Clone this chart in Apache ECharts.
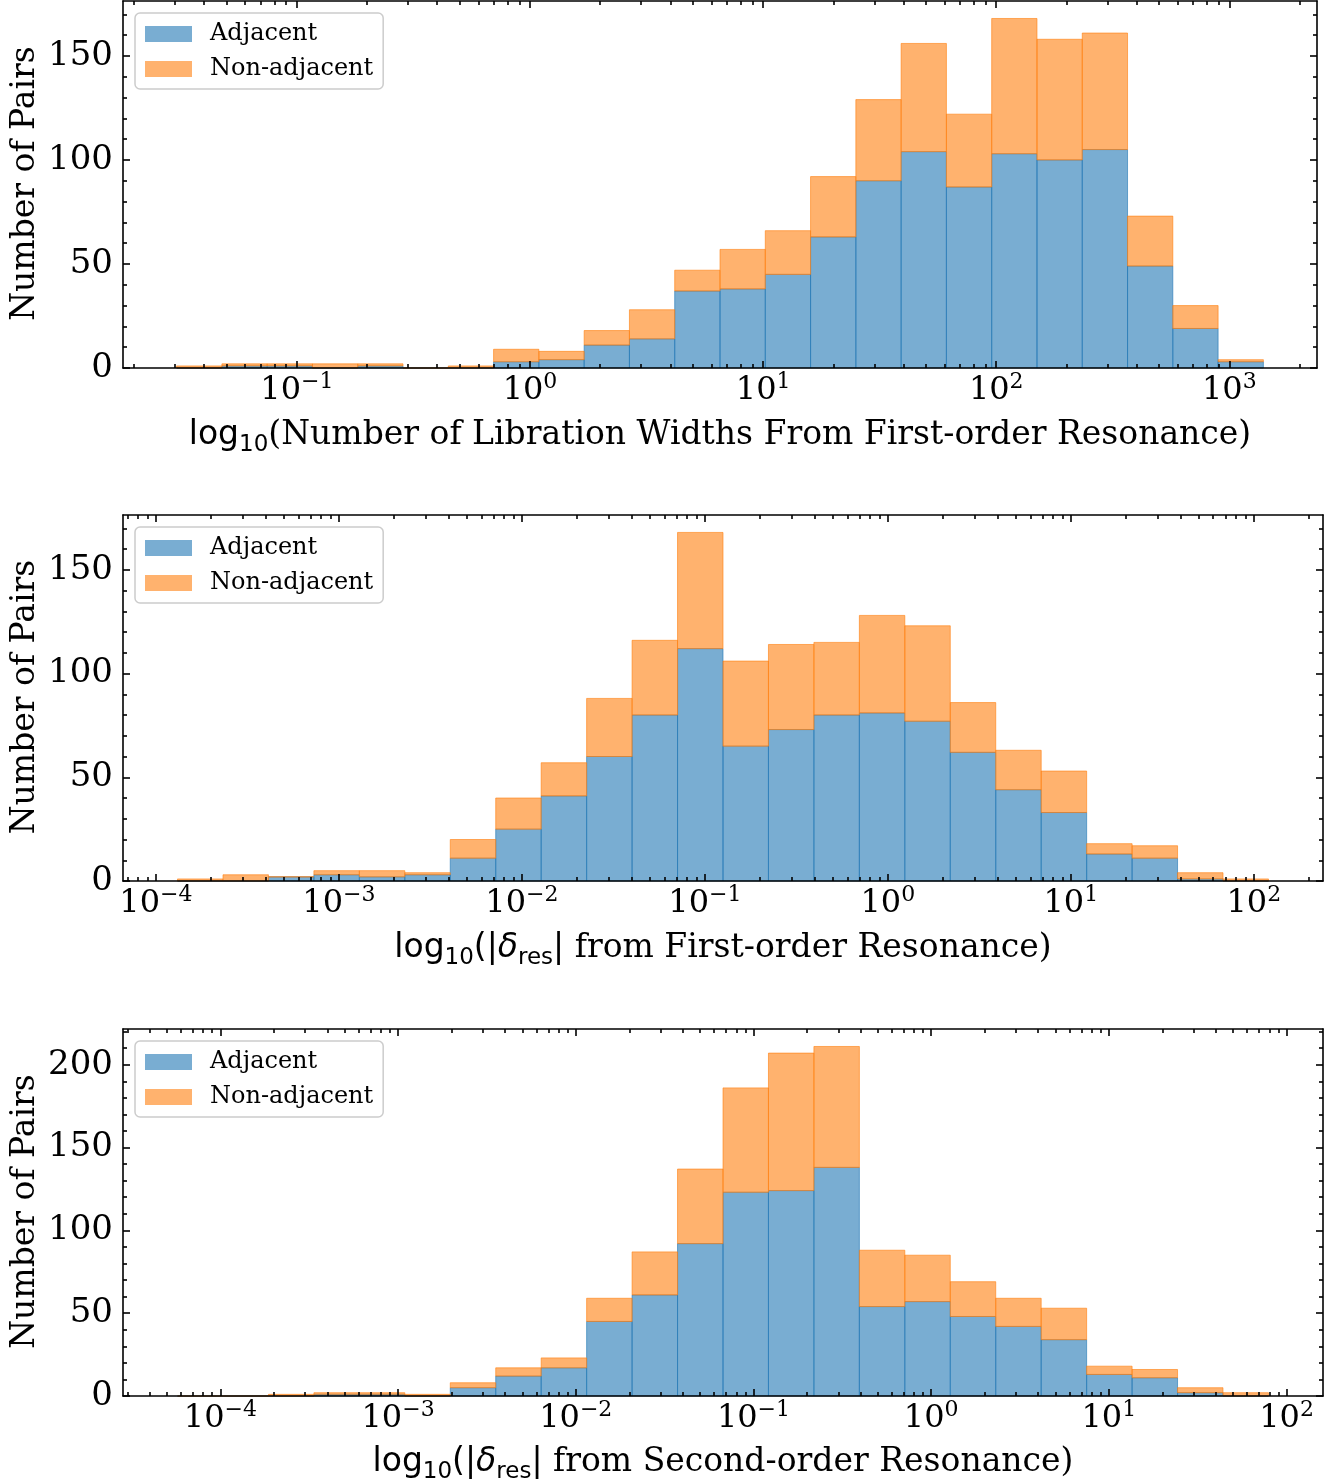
<!DOCTYPE html>
<html><head><meta charset="utf-8">
<script src="https://cdn.jsdelivr.net/npm/echarts@6/dist/echarts.min.js"></script>
<style>html,body{margin:0;padding:0;background:#fff}#c{width:1340px;height:1481px}</style>
</head><body><div id="c"></div>
<script>
// ---------- data (log10 bin ranges, counts per bin) ----------
const seriesNames = ['Adjacent', 'Non-adjacent'];

// Panel 1: libration widths from first-order resonance
const p1AxisRange = [-1.746, 3.376];      // log10 x-limits
const p1BinRange = [-1.516, 3.146];       // log10 of first / last bin edge (24 bins)
const p1Adjacent    = [0,1,1,0,1,0,0,3,4,11,14,37,38,45,63,90,104,87,103,100,105,49,19,3];
const p1NonAdjacent = [1,1,1,2,1,0,1,6,4,7,14,10,19,21,29,39,52,35,65,58,56,24,11,1];
const p1TickExp = [-1, 0, 1, 2, 3];

// Panel 2: |delta_res| from first-order resonance
const p2AxisRange = [-4.180, 2.378];
const p2BinRange = [-3.882, 2.080];
const p2Adjacent    = [0,0,2,3,2,3,11,25,41,60,80,112,65,73,80,81,77,62,44,33,13,11,1,0];
const p2NonAdjacent = [1,3,0,2,3,1,9,15,16,28,36,56,41,41,35,47,46,24,19,20,5,6,3,1];
const p2TickExp = [-4, -3, -2, -1, 0, 1, 2];

// Panel 3: |delta_res| from second-order resonance
const p3AxisRange = [-4.548, 2.205];
const p3BinRange = [-4.241, 1.898];
const p3Adjacent    = [0,0,0,1,1,0,5,12,17,45,61,92,123,124,138,54,57,48,42,34,13,11,2,0];
const p3NonAdjacent = [0,0,1,1,1,1,3,5,6,14,26,45,63,83,73,34,28,21,17,19,5,5,3,2];
const p3TickExp = [-4, -3, -2, -1, 0, 1, 2];

const yLabel = 'Number of Pairs';
const p1XName = '{m|log}{sub|10}{t|(Number of Libration Widths From First-order Resonance)}';
const p2XName = '{m|log}{sub|10}{m|(|}{it|δ}{sub|res}{m||}{t| from First-order Resonance)}';
const p3XName = '{m|log}{sub|10}{m|(|}{it|δ}{sub|res}{m||}{t| from Second-order Resonance)}';

// ---------- layout / style ----------
const SERIF = 'DejaVu Serif', SANS = 'DejaVu Sans';
const FILL = ['rgba(31,119,180,0.6)', 'rgba(255,127,14,0.6)'];
const panels = [
  {range: p1AxisRange, bins: p1BinRange, adj: p1Adjacent, non: p1NonAdjacent, ticks: p1TickExp, name: p1XName,
   grid: {left: 123, top: 1, width: 1194, height: 367}, nameGap: 45},
  {range: p2AxisRange, bins: p2BinRange, adj: p2Adjacent, non: p2NonAdjacent, ticks: p2TickExp, name: p2XName,
   grid: {left: 123, top: 515, width: 1200, height: 366}, nameGap: 45},
  {range: p3AxisRange, bins: p3BinRange, adj: p3Adjacent, non: p3NonAdjacent, ticks: p3TickExp, name: p3XName,
   grid: {left: 123, top: 1029, width: 1200, height: 367}, nameGap: 44}
];

function minorLogTicks(r) {
  const out = [];
  for (let n = Math.floor(r[0]); n <= Math.ceil(r[1]); n++) {
    for (let k = 2; k <= 9; k++) {
      const v = n + Math.log10(k);
      if (v > r[0] && v < r[1]) out.push(v);
    }
  }
  return out;
}
function supLabel(v) {
  const e = Math.round(v);
  return '{b|10}{s|' + (e < 0 ? '\u2212' + (-e) : String(e)) + '}';
}
const tickRich = {
  b: {fontFamily: SERIF, fontSize: 32, lineHeight: 40, color: '#000'},
  s: {fontFamily: SERIF, fontSize: 22, lineHeight: 22, verticalAlign: 'top', color: '#000'}
};
const nameRich = {
  m: {fontFamily: SANS, fontSize: 33, lineHeight: 44, color: '#000'},
  it: {fontFamily: SANS, fontStyle: 'italic', fontSize: 33, lineHeight: 44, color: '#000'},
  sub: {fontFamily: SANS, fontSize: 23, lineHeight: 21, verticalAlign: 'bottom', color: '#000'},
  t: {fontFamily: SERIF, fontSize: 33, lineHeight: 44, color: '#000'}
};
const lineStyle = {color: '#000', width: 1.6};

const grids = [], xAxes = [], yAxes = [], series = [], legends = [], graphics = [];
panels.forEach((p, i) => {
  grids.push(Object.assign({outerBoundsMode: 'none', containLabel: false}, p.grid));
  const minors = minorLogTicks(p.range);
  const baseX = {gridIndex: i, type: 'value', min: p.range[0], max: p.range[1], splitLine: {show: false}, z: 5};
  xAxes.push(Object.assign({}, baseX, {
    position: 'bottom',
    axisLine: {onZero: false, lineStyle},
    axisTick: {inside: true, length: 7, lineStyle, customValues: p.ticks},
    axisLabel: {customValues: p.ticks, formatter: supLabel, rich: tickRich, margin: 3, hideOverlap: false},
    name: p.name, nameLocation: 'middle', nameGap: p.nameGap, nameTextStyle: {rich: nameRich}
  }));
  xAxes.push(Object.assign({}, baseX, {
    position: 'bottom', axisLine: {show: false, onZero: false},
    axisTick: {inside: true, length: 4, lineStyle, customValues: minors},
    axisLabel: {show: false, customValues: minors}
  }));
  xAxes.push(Object.assign({}, baseX, {
    position: 'top', axisLine: {onZero: false, lineStyle},
    axisTick: {inside: true, length: 7, lineStyle, customValues: p.ticks},
    axisLabel: {show: false, customValues: p.ticks}
  }));
  xAxes.push(Object.assign({}, baseX, {
    position: 'top', axisLine: {show: false, onZero: false},
    axisTick: {inside: true, length: 4, lineStyle, customValues: minors},
    axisLabel: {show: false, customValues: minors}
  }));

  const totals = p.adj.map((a, k) => a + p.non[k]);
  const ymax = Math.max.apply(null, totals) * 1.05;
  const yMajor = [], yMinor = [];
  for (let v = 0; v <= ymax; v += 10) (v % 50 === 0 ? yMajor : yMinor).push(v);
  const baseY = {gridIndex: i, type: 'value', min: 0, max: ymax, splitLine: {show: false}, z: 5};
  yAxes.push(Object.assign({}, baseY, {
    position: 'left', axisLine: {onZero: false, lineStyle},
    axisTick: {inside: true, length: 7, lineStyle, customValues: yMajor},
    axisLabel: {customValues: yMajor, fontFamily: SERIF, fontSize: 34, color: '#000', margin: 10}
  }));
  yAxes.push(Object.assign({}, baseY, {
    position: 'left', axisLine: {show: false, onZero: false},
    axisTick: {inside: true, length: 4, lineStyle, customValues: yMinor},
    axisLabel: {show: false, customValues: yMinor}
  }));
  yAxes.push(Object.assign({}, baseY, {
    position: 'right', axisLine: {onZero: false, lineStyle},
    axisTick: {inside: true, length: 7, lineStyle, customValues: yMajor},
    axisLabel: {show: false, customValues: yMajor}
  }));
  yAxes.push(Object.assign({}, baseY, {
    position: 'right', axisLine: {show: false, onZero: false},
    axisTick: {inside: true, length: 4, lineStyle, customValues: yMinor},
    axisLabel: {show: false, customValues: yMinor}
  }));

  // y-axis title, rotated, centred on the panel
  graphics.push({
    type: 'text', x: 25, y: p.grid.top + p.grid.height / 2 - 1, rotation: Math.PI / 2,
    style: {text: yLabel, font: '33px "DejaVu Serif"', fill: '#000', align: 'center', verticalAlign: 'middle'}
  });

  const n = p.adj.length;
  const w = (p.bins[1] - p.bins[0]) / n;
  const edge = k => p.bins[0] + k * w;
  const adjData = p.adj.map((a, k) => [edge(k), edge(k + 1), 0, a]);
  const nonData = p.non.map((b, k) => [edge(k), edge(k + 1), p.adj[k], p.adj[k] + b]);
  [adjData, nonData].forEach((data, s) => {
    series.push({
      type: 'custom', name: seriesNames[s], xAxisIndex: 4 * i, yAxisIndex: 4 * i, z: 2,
      itemStyle: {color: FILL[s]},
      encode: {x: [0, 1], y: [2, 3]},
      data,
      renderItem: function (params, api) {
        const a = api.coord([api.value(0), api.value(2)]);
        const b = api.coord([api.value(1), api.value(3)]);
        return {type: 'rect', shape: {x: a[0], y: b[1], width: b[0] - a[0], height: a[1] - b[1]},
                style: {fill: FILL[s], stroke: FILL[s], lineWidth: 1}};
      }
    });
  });

  legends.push({
    left: 135, top: p.grid.top + 12, orient: 'vertical', icon: 'rect',
    itemWidth: 47, itemHeight: 16, itemGap: 11,
    padding: [9, 10, 8, 10],
    backgroundColor: 'rgba(255,255,255,0.8)', borderColor: '#cccccc', borderWidth: 1.5, borderRadius: 5,
    data: seriesNames, selectedMode: false,
    textStyle: {fontFamily: SERIF, fontSize: 24, lineHeight: 24, color: '#000', padding: [0, 0, 0, 13]},
    itemStyle: {borderWidth: 0}
  });
});

const chart = echarts.init(document.getElementById('c'), null, {renderer: 'canvas'});
chart.setOption({
  animation: false,
  backgroundColor: '#fff',
  grid: grids, xAxis: xAxes, yAxis: yAxes, series, legend: legends, graphic: graphics
});
</script></body></html>
